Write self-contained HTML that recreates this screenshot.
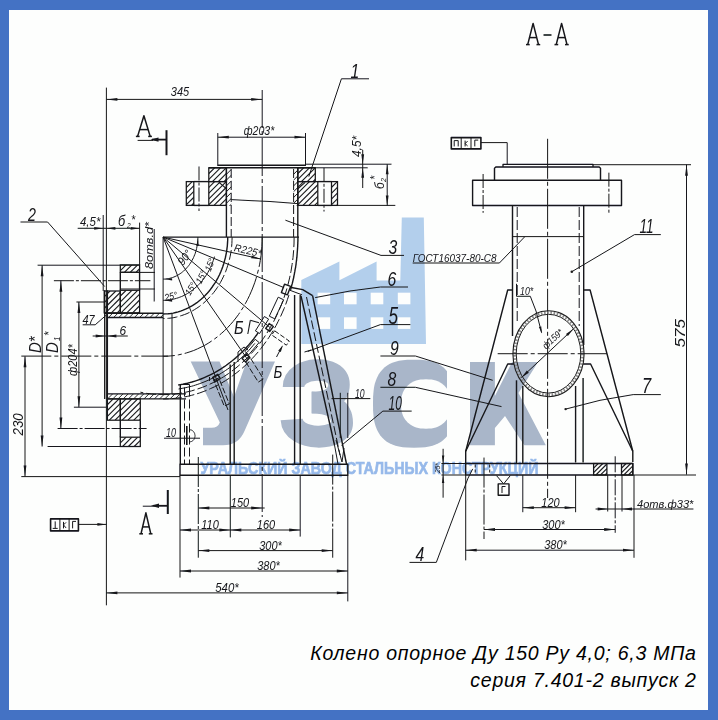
<!DOCTYPE html>
<html><head><meta charset="utf-8">
<style>
html,body{margin:0;padding:0;}
body{width:718px;height:720px;background:#4472c4;position:relative;overflow:hidden;font-family:"Liberation Sans",sans-serif;}
#paper{position:absolute;left:8.6px;top:9.6px;width:699.2px;height:700.8px;background:#fdfefd;}
#dr{position:absolute;left:0;top:0;}
.cap{position:absolute;right:21.3px;white-space:nowrap;font-style:italic;font-size:19.5px;letter-spacing:0.75px;color:#000;line-height:22px;}
</style></head><body>
<div id="paper"></div>
<svg id="dr" width="718" height="720" viewBox="0 0 718 720">
<g id="wm" filter="url(#bl2)">
<path d="M301.3 344 L301.3 280 L339.4 261.5 L339.4 280.3 L376.6 261.6 L376.6 280.5 L400.3 280.5 L401.8 217.4 L423.8 217.4 L426 344 Z" fill="#b3cfec"/>
<rect x="317.6" y="292.7" width="12.6" height="11.6" fill="#fdfefd"/>
<rect x="317.6" y="317.3" width="12.6" height="11.6" fill="#fdfefd"/>
<rect x="344" y="292.7" width="12.6" height="11.6" fill="#fdfefd"/>
<rect x="344" y="317.3" width="12.6" height="11.6" fill="#fdfefd"/>
<rect x="370.7" y="292.7" width="12.6" height="11.6" fill="#fdfefd"/>
<rect x="370.7" y="317.3" width="12.6" height="11.6" fill="#fdfefd"/>
<rect x="397.8" y="292.7" width="12.6" height="11.6" fill="#fdfefd"/>
<rect x="397.8" y="317.3" width="12.6" height="11.6" fill="#fdfefd"/>
<path fill="#a9b6c9" d="M190.7 361.5 L219.5 361.5 L234 397 L246.5 361.5 L275 361.5 L244.5 431 Q238.5 445.3 223 445.3 L203 445.3 L203 427.8 L211.5 427.8 Q218 427.8 219.8 422.5 Z"/>
<path fill="none" stroke="#a9b6c9" stroke-width="21.5" d="M293.5 387 C293.5 365.5 339 364 339 384.5 C339 397 328 402.5 311.7 402.5"/>
<path fill="none" stroke="#a9b6c9" stroke-width="22" d="M311.7 402.5 C331 402.5 342 408.5 342 423 C342 441.5 293 442 291.6 419.5"/>
<mask id="mC" maskUnits="userSpaceOnUse" x="360" y="350" width="100" height="110"><rect x="360" y="350" width="87" height="110" fill="#fff"/><path d="M451.0 404.0 L450.9 407.0 L450.7 409.4 L450.3 411.6 L449.7 413.7 L449.0 415.7 L448.1 417.5 L447.0 419.2 L445.8 420.8 L444.5 422.3 L443.0 423.6 L441.4 424.8 L439.7 425.8 L437.8 426.7 L435.8 427.4 L433.7 428.0 L431.5 428.4 L429.0 428.6 L426.0 428.7 L423.0 428.6 L420.5 428.4 L418.3 428.0 L416.2 427.4 L414.2 426.7 L412.3 425.8 L410.6 424.8 L409.0 423.6 L407.5 422.3 L406.2 420.8 L405.0 419.2 L403.9 417.5 L403.0 415.7 L402.3 413.7 L401.7 411.6 L401.3 409.4 L401.1 407.0 L401.0 404.0 L401.1 401.0 L401.3 398.6 L401.7 396.4 L402.3 394.3 L403.0 392.3 L403.9 390.5 L405.0 388.8 L406.2 387.2 L407.5 385.7 L409.0 384.4 L410.6 383.2 L412.3 382.2 L414.2 381.3 L416.2 380.6 L418.3 380.0 L420.5 379.6 L423.0 379.4 L426.0 379.3 L429.0 379.4 L431.5 379.6 L433.7 380.0 L435.8 380.6 L437.8 381.3 L439.7 382.2 L441.4 383.2 L443.0 384.4 L444.5 385.7 L445.8 387.2 L447.0 388.8 L448.1 390.5 L449.0 392.3 L449.7 394.3 L450.3 396.4 L450.7 398.6 L450.9 401.0 Z" fill="#000"/><rect x="426" y="396.8" width="40" height="21.8" fill="#000"/></mask>
<path fill="#a9b6c9" mask="url(#mC)" d="M455.0 403.7 L454.9 410.9 L454.5 415.7 L454.0 419.9 L453.2 423.6 L452.1 426.9 L450.9 430.0 L449.4 432.8 L447.7 435.4 L445.7 437.7 L443.6 439.8 L441.2 441.7 L438.5 443.3 L435.7 444.6 L432.5 445.7 L429.1 446.6 L425.2 447.2 L420.7 447.6 L414.0 447.7 L407.3 447.6 L402.8 447.2 L398.9 446.6 L395.5 445.7 L392.3 444.6 L389.5 443.3 L386.8 441.7 L384.4 439.8 L382.3 437.7 L380.3 435.4 L378.6 432.8 L377.1 430.0 L375.9 426.9 L374.8 423.6 L374.0 419.9 L373.5 415.7 L373.1 410.9 L373.0 403.7 L373.1 396.5 L373.5 391.7 L374.0 387.5 L374.8 383.8 L375.9 380.5 L377.1 377.4 L378.6 374.6 L380.3 372.0 L382.3 369.7 L384.4 367.6 L386.8 365.7 L389.5 364.1 L392.3 362.8 L395.5 361.7 L398.9 360.8 L402.8 360.2 L407.3 359.8 L414.0 359.7 L420.7 359.8 L425.2 360.2 L429.1 360.8 L432.5 361.7 L435.7 362.8 L438.5 364.1 L441.2 365.7 L443.6 367.6 L445.7 369.7 L447.7 372.0 L449.4 374.6 L450.9 377.4 L452.1 380.5 L453.2 383.8 L454.0 387.5 L454.5 391.7 L454.9 396.5 Z"/>
<path fill="#a9b6c9" d="M470 362 L494.9 362 L494.9 396 L512.1 362 L538.1 362 L518.5 393 L545.8 445.3 L524.3 445.3 L505 416 L494.9 428 L494.9 445.3 L470 445.3 Z"/>
<text id="wS" x="200.5" y="474.4" fill="#96b9ea" stroke="#96b9ea" stroke-width="0.7" style="font-family:'Liberation Sans',sans-serif;font-weight:bold;font-size:17.2px" textLength="338" lengthAdjust="spacingAndGlyphs">УРАЛЬСКИЙ ЗАВОД СТАЛЬНЫХ КОНСТРУКЦИЙ</text>
</g>
<defs><filter id="bl2" x="0" y="0" width="718" height="720" filterUnits="userSpaceOnUse"><feGaussianBlur stdDeviation="0.7"/></filter><filter id="bl" x="0" y="0" width="718" height="720" filterUnits="userSpaceOnUse"><feGaussianBlur stdDeviation="0.45"/></filter></defs>
<g id="draw" stroke-linecap="butt" filter="url(#bl)">
<line x1="106.4" y1="87.6" x2="106.4" y2="605.3" stroke="#15161a" stroke-width="1.0"/>
<line x1="106.4" y1="99.4" x2="262.2" y2="99.4" stroke="#15161a" stroke-width="1.0"/>
<polygon points="106.4,99.4 117.4,98.0 117.4,100.8" fill="#15161a"/>
<polygon points="262.2,99.4 251.2,100.8 251.2,98.0" fill="#15161a"/>
<text transform="translate(180.0 96.3) scale(0.88 1)" text-anchor="middle" style="font-family:'Liberation Sans',sans-serif;font-size:12.5px;font-style:italic;" fill="#15161a">345</text>
<line x1="262.2" y1="90.0" x2="262.2" y2="517.0" stroke="#15161a" stroke-width="1.0" stroke-dasharray="38 3 4 3"/>
<path d="M137.6 136.4 L143.9 115.8 L150.2 136.4" fill="none" stroke="#15161a" stroke-width="1.5" stroke-linejoin="round"/>
<line x1="135.9" y1="136.4" x2="139.6" y2="136.4" stroke="#15161a" stroke-width="1.5"/>
<line x1="148.2" y1="136.4" x2="151.9" y2="136.4" stroke="#15161a" stroke-width="1.5"/>
<line x1="139.7" y1="129.6" x2="148.1" y2="129.6" stroke="#15161a" stroke-width="1.5"/>
<line x1="137.6" y1="140.4" x2="153.0" y2="140.4" stroke="#15161a" stroke-width="1.0"/>
<line x1="152.0" y1="139.6" x2="166.5" y2="139.6" stroke="#15161a" stroke-width="1.8"/>
<polygon points="150.5,139.6 158.5,137.4 158.5,141.8" fill="#15161a"/>
<line x1="166.5" y1="130.2" x2="166.5" y2="155.2" stroke="#15161a" stroke-width="2.0"/>
<line x1="217.8" y1="137.2" x2="305.5" y2="137.2" stroke="#15161a" stroke-width="1.0"/>
<polygon points="217.8,137.2 228.8,135.8 228.8,138.6" fill="#15161a"/>
<polygon points="305.5,137.2 294.5,138.6 294.5,135.8" fill="#15161a"/>
<line x1="217.8" y1="133.0" x2="217.8" y2="166.0" stroke="#15161a" stroke-width="1.0"/>
<line x1="305.5" y1="133.0" x2="305.5" y2="166.0" stroke="#15161a" stroke-width="1.0"/>
<text transform="translate(259.0 135.2) scale(0.88 1)" text-anchor="middle" style="font-family:'Liberation Sans',sans-serif;font-size:12px;font-style:italic;" fill="#15161a">ф203*</text>
<line x1="217.8" y1="165.3" x2="305.5" y2="165.3" stroke="#15161a" stroke-width="1.4"/>
<line x1="208.8" y1="167.8" x2="315.3" y2="167.8" stroke="#15161a" stroke-width="1.4"/>
<clipPath id="h1"><rect x="208.8" y="167.8" width="17.6" height="13.8"/></clipPath>
<g clip-path="url(#h1)">
<line x1="195.0" y1="181.6" x2="208.8" y2="167.8" stroke="#15161a" stroke-width="1.1"/>
<line x1="200.8" y1="181.6" x2="214.6" y2="167.8" stroke="#15161a" stroke-width="1.1"/>
<line x1="206.6" y1="181.6" x2="220.4" y2="167.8" stroke="#15161a" stroke-width="1.1"/>
<line x1="212.4" y1="181.6" x2="226.2" y2="167.8" stroke="#15161a" stroke-width="1.1"/>
<line x1="218.2" y1="181.6" x2="232.0" y2="167.8" stroke="#15161a" stroke-width="1.1"/>
<line x1="224.0" y1="181.6" x2="237.8" y2="167.8" stroke="#15161a" stroke-width="1.1"/>
</g>
<rect x="208.8" y="167.8" width="17.6" height="13.8" fill="none" stroke="#15161a" stroke-width="1.25"/>
<clipPath id="h2"><rect x="208.8" y="181.6" width="17.6" height="23.8"/></clipPath>
<g clip-path="url(#h2)">
<line x1="185.0" y1="205.4" x2="208.8" y2="181.6" stroke="#15161a" stroke-width="1.1"/>
<line x1="190.8" y1="205.4" x2="214.6" y2="181.6" stroke="#15161a" stroke-width="1.1"/>
<line x1="196.6" y1="205.4" x2="220.4" y2="181.6" stroke="#15161a" stroke-width="1.1"/>
<line x1="202.4" y1="205.4" x2="226.2" y2="181.6" stroke="#15161a" stroke-width="1.1"/>
<line x1="208.2" y1="205.4" x2="232.0" y2="181.6" stroke="#15161a" stroke-width="1.1"/>
<line x1="214.0" y1="205.4" x2="237.8" y2="181.6" stroke="#15161a" stroke-width="1.1"/>
<line x1="219.8" y1="205.4" x2="243.6" y2="181.6" stroke="#15161a" stroke-width="1.1"/>
<line x1="225.6" y1="205.4" x2="249.4" y2="181.6" stroke="#15161a" stroke-width="1.1"/>
</g>
<rect x="208.8" y="181.6" width="17.6" height="23.8" fill="none" stroke="#15161a" stroke-width="1.25"/>
<clipPath id="h3"><rect x="186.3" y="181.6" width="7.5" height="23.8"/></clipPath>
<g clip-path="url(#h3)">
<line x1="162.5" y1="205.4" x2="186.3" y2="181.6" stroke="#15161a" stroke-width="1.1"/>
<line x1="168.3" y1="205.4" x2="192.1" y2="181.6" stroke="#15161a" stroke-width="1.1"/>
<line x1="174.1" y1="205.4" x2="197.9" y2="181.6" stroke="#15161a" stroke-width="1.1"/>
<line x1="179.9" y1="205.4" x2="203.7" y2="181.6" stroke="#15161a" stroke-width="1.1"/>
<line x1="185.7" y1="205.4" x2="209.5" y2="181.6" stroke="#15161a" stroke-width="1.1"/>
<line x1="191.5" y1="205.4" x2="215.3" y2="181.6" stroke="#15161a" stroke-width="1.1"/>
</g>
<rect x="186.3" y="181.6" width="7.5" height="23.8" fill="none" stroke="#15161a" stroke-width="1.25"/>
<path d="M193.8 181.6 L208.8 181.6" fill="none" stroke="#15161a" stroke-width="1.4" stroke-linejoin="round"/>
<path d="M193.8 205.4 L208.8 205.4" fill="none" stroke="#15161a" stroke-width="1.4" stroke-linejoin="round"/>
<line x1="199.0" y1="166.5" x2="199.0" y2="211.0" stroke="#15161a" stroke-width="1.0" stroke-dasharray="14 2 3 2"/>
<clipPath id="h4"><rect x="297.8" y="167.8" width="17.5" height="13.8"/></clipPath>
<g clip-path="url(#h4)">
<line x1="284.0" y1="181.6" x2="297.8" y2="167.8" stroke="#15161a" stroke-width="1.1"/>
<line x1="289.8" y1="181.6" x2="303.6" y2="167.8" stroke="#15161a" stroke-width="1.1"/>
<line x1="295.6" y1="181.6" x2="309.4" y2="167.8" stroke="#15161a" stroke-width="1.1"/>
<line x1="301.4" y1="181.6" x2="315.2" y2="167.8" stroke="#15161a" stroke-width="1.1"/>
<line x1="307.2" y1="181.6" x2="321.0" y2="167.8" stroke="#15161a" stroke-width="1.1"/>
<line x1="313.0" y1="181.6" x2="326.8" y2="167.8" stroke="#15161a" stroke-width="1.1"/>
</g>
<rect x="297.8" y="167.8" width="17.5" height="13.8" fill="none" stroke="#15161a" stroke-width="1.25"/>
<clipPath id="h5"><rect x="297.8" y="181.6" width="20.0" height="23.8"/></clipPath>
<g clip-path="url(#h5)">
<line x1="274.0" y1="205.4" x2="297.8" y2="181.6" stroke="#15161a" stroke-width="1.1"/>
<line x1="279.8" y1="205.4" x2="303.6" y2="181.6" stroke="#15161a" stroke-width="1.1"/>
<line x1="285.6" y1="205.4" x2="309.4" y2="181.6" stroke="#15161a" stroke-width="1.1"/>
<line x1="291.4" y1="205.4" x2="315.2" y2="181.6" stroke="#15161a" stroke-width="1.1"/>
<line x1="297.2" y1="205.4" x2="321.0" y2="181.6" stroke="#15161a" stroke-width="1.1"/>
<line x1="303.0" y1="205.4" x2="326.8" y2="181.6" stroke="#15161a" stroke-width="1.1"/>
<line x1="308.8" y1="205.4" x2="332.6" y2="181.6" stroke="#15161a" stroke-width="1.1"/>
<line x1="314.6" y1="205.4" x2="338.4" y2="181.6" stroke="#15161a" stroke-width="1.1"/>
</g>
<rect x="297.8" y="181.6" width="20.0" height="23.8" fill="none" stroke="#15161a" stroke-width="1.25"/>
<clipPath id="h6"><rect x="331.5" y="181.6" width="6.0" height="23.8"/></clipPath>
<g clip-path="url(#h6)">
<line x1="307.7" y1="205.4" x2="331.5" y2="181.6" stroke="#15161a" stroke-width="1.1"/>
<line x1="313.5" y1="205.4" x2="337.3" y2="181.6" stroke="#15161a" stroke-width="1.1"/>
<line x1="319.3" y1="205.4" x2="343.1" y2="181.6" stroke="#15161a" stroke-width="1.1"/>
<line x1="325.1" y1="205.4" x2="348.9" y2="181.6" stroke="#15161a" stroke-width="1.1"/>
<line x1="330.9" y1="205.4" x2="354.7" y2="181.6" stroke="#15161a" stroke-width="1.1"/>
<line x1="336.7" y1="205.4" x2="360.5" y2="181.6" stroke="#15161a" stroke-width="1.1"/>
</g>
<rect x="331.5" y="181.6" width="6.0" height="23.8" fill="none" stroke="#15161a" stroke-width="1.25"/>
<path d="M317.8 181.6 L331.5 181.6" fill="none" stroke="#15161a" stroke-width="1.4" stroke-linejoin="round"/>
<path d="M317.8 205.4 L331.5 205.4" fill="none" stroke="#15161a" stroke-width="1.4" stroke-linejoin="round"/>
<line x1="324.0" y1="167.8" x2="324.0" y2="211.5" stroke="#15161a" stroke-width="1.0" stroke-dasharray="14 2 3 2"/>
<clipPath id="h7"><rect x="226.4" y="168.5" width="4.8" height="37.5"/></clipPath>
<g clip-path="url(#h7)">
<line x1="188.9" y1="206.0" x2="226.4" y2="168.5" stroke="#15161a" stroke-width="1.0"/>
<line x1="194.7" y1="206.0" x2="232.2" y2="168.5" stroke="#15161a" stroke-width="1.0"/>
<line x1="200.5" y1="206.0" x2="238.0" y2="168.5" stroke="#15161a" stroke-width="1.0"/>
<line x1="206.3" y1="206.0" x2="243.8" y2="168.5" stroke="#15161a" stroke-width="1.0"/>
<line x1="212.1" y1="206.0" x2="249.6" y2="168.5" stroke="#15161a" stroke-width="1.0"/>
<line x1="217.9" y1="206.0" x2="255.4" y2="168.5" stroke="#15161a" stroke-width="1.0"/>
<line x1="223.7" y1="206.0" x2="261.2" y2="168.5" stroke="#15161a" stroke-width="1.0"/>
<line x1="229.5" y1="206.0" x2="267.0" y2="168.5" stroke="#15161a" stroke-width="1.0"/>
</g>
<clipPath id="h8"><rect x="293.6" y="168.5" width="4.2" height="37.5"/></clipPath>
<g clip-path="url(#h8)">
<line x1="256.1" y1="206.0" x2="293.6" y2="168.5" stroke="#15161a" stroke-width="1.0"/>
<line x1="261.9" y1="206.0" x2="299.4" y2="168.5" stroke="#15161a" stroke-width="1.0"/>
<line x1="267.7" y1="206.0" x2="305.2" y2="168.5" stroke="#15161a" stroke-width="1.0"/>
<line x1="273.5" y1="206.0" x2="311.0" y2="168.5" stroke="#15161a" stroke-width="1.0"/>
<line x1="279.3" y1="206.0" x2="316.8" y2="168.5" stroke="#15161a" stroke-width="1.0"/>
<line x1="285.1" y1="206.0" x2="322.6" y2="168.5" stroke="#15161a" stroke-width="1.0"/>
<line x1="290.9" y1="206.0" x2="328.4" y2="168.5" stroke="#15161a" stroke-width="1.0"/>
<line x1="296.7" y1="206.0" x2="334.2" y2="168.5" stroke="#15161a" stroke-width="1.0"/>
</g>
<line x1="219.0" y1="182.3" x2="226.8" y2="189.0" stroke="#15161a" stroke-width="1.1"/>
<line x1="305.2" y1="182.3" x2="297.6" y2="189.0" stroke="#15161a" stroke-width="1.1"/>
<line x1="226.4" y1="167.8" x2="226.4" y2="237.0" stroke="#15161a" stroke-width="1.4"/>
<line x1="231.2" y1="169.0" x2="231.2" y2="237.0" stroke="#15161a" stroke-width="1.0" stroke-dasharray="9 3"/>
<line x1="297.8" y1="167.8" x2="297.8" y2="237.0" stroke="#15161a" stroke-width="1.4"/>
<line x1="293.6" y1="169.0" x2="293.6" y2="237.0" stroke="#15161a" stroke-width="1.0" stroke-dasharray="9 3"/>
<path d="M231.2 199.6 L250.0 200.6 L270.0 201.5 L297.8 203.6" fill="none" stroke="#15161a" stroke-width="1.0" stroke-linejoin="round"/>
<line x1="305.5" y1="164.2" x2="391.5" y2="164.2" stroke="#15161a" stroke-width="1.0"/>
<line x1="315.0" y1="167.8" x2="367.7" y2="167.8" stroke="#15161a" stroke-width="1.0"/>
<line x1="337.6" y1="205.4" x2="395.3" y2="205.4" stroke="#15161a" stroke-width="1.0"/>
<line x1="387.2" y1="164.2" x2="387.2" y2="205.4" stroke="#15161a" stroke-width="1.0"/>
<polygon points="387.2,164.2 388.6,174.2 385.8,174.2" fill="#15161a"/>
<polygon points="387.2,205.4 385.8,195.4 388.6,195.4" fill="#15161a"/>
<text transform="translate(383.5 189.0) rotate(-90) scale(0.88 1)" text-anchor="start" style="font-family:'Liberation Sans',sans-serif;font-size:13.5px;font-style:italic;" fill="#15161a">б</text>
<text transform="translate(385.5 182.0) rotate(-90) scale(0.88 1)" text-anchor="start" style="font-family:'Liberation Sans',sans-serif;font-size:8px;font-style:italic;" fill="#15161a">2</text>
<text transform="translate(379.0 180.0) rotate(-90) scale(0.88 1)" text-anchor="start" style="font-family:'Liberation Sans',sans-serif;font-size:12.5px;font-style:italic;" fill="#15161a">*</text>
<line x1="362.7" y1="150.0" x2="362.7" y2="188.0" stroke="#15161a" stroke-width="1.0"/>
<polygon points="362.7,164.2 361.3,154.2 364.1,154.2" fill="#15161a"/>
<polygon points="362.7,167.8 364.1,177.8 361.3,177.8" fill="#15161a"/>
<text transform="translate(361.0 157.0) rotate(-90) scale(0.88 1)" text-anchor="start" style="font-family:'Liberation Sans',sans-serif;font-size:13.5px;font-style:italic;" fill="#15161a">4,5*</text>
<path d="M308.8 176.6 L341.4 78.8 L369.0 78.8" fill="none" stroke="#15161a" stroke-width="1.0" stroke-linejoin="round"/>
<text transform="translate(350.5 77.6) scale(0.75 1)" text-anchor="start" style="font-family:'Liberation Sans',sans-serif;font-size:21px;font-style:italic;" fill="#15161a">1</text>
<line x1="163.1" y1="237.1" x2="299.0" y2="237.1" stroke="#15161a" stroke-width="1.4"/>
<line x1="163.1" y1="237.1" x2="163.1" y2="395.0" stroke="#15161a" stroke-width="1.0"/>
<line x1="172.0" y1="314.0" x2="172.0" y2="394.0" stroke="#15161a" stroke-width="1.0"/>
<line x1="163.1" y1="237.1" x2="260.3" y2="258.9" stroke="#15161a" stroke-width="1.0"/>
<line x1="163.1" y1="237.1" x2="284.1" y2="287.7" stroke="#15161a" stroke-width="1.0"/>
<line x1="163.1" y1="237.1" x2="270.3" y2="327.8" stroke="#15161a" stroke-width="1.0"/>
<line x1="163.1" y1="237.1" x2="246.5" y2="357.9" stroke="#15161a" stroke-width="1.0"/>
<line x1="163.1" y1="237.1" x2="228.0" y2="410.0" stroke="#15161a" stroke-width="1.0"/>
<polygon points="260.3,258.9 251.2,258.3 251.8,255.6" fill="#15161a"/>
<text transform="translate(233.5 251.0) rotate(12.5) scale(0.95 1)" text-anchor="start" style="font-family:'Liberation Sans',sans-serif;font-size:10.5px;font-style:italic;" fill="#15161a">R225*</text>
<path d="M197.9 237.1 L197.9 238.7 L197.8 240.4 L197.7 242.0 L197.5 243.7 L197.2 245.3 L196.9 246.9 L196.6 248.5 L196.2 250.1 L195.7 251.6 L195.3 253.2 L194.7 254.7 L194.1 256.2 L193.5 257.6 L192.8 259.0 L192.0 260.4 L191.3 261.8 L190.4 263.1 L189.6 264.4 L188.7 265.6 L187.7 266.8 L186.7 267.9 L185.7 269.0 L184.6 270.1 L183.6 271.1 L182.4 272.0 L181.3 272.9 L180.1 273.7 L178.9 274.5 L177.7 275.2 L176.4 275.9 L175.1 276.5 L173.9 277.0 L172.5 277.5 L171.2 277.9 L169.9 278.3 L168.5 278.6 L167.2 278.8 L165.8 279.0 L164.5 279.1 L163.1 279.1" fill="none" stroke="#15161a" stroke-width="1.0" stroke-linejoin="round"/>
<polygon points="197.9,238.1 198.8,246.1 196.4,246.1" fill="#15161a"/>
<polygon points="164.1,279.1 172.1,278.2 172.1,280.6" fill="#15161a"/>
<text transform="translate(183.0 266.0) rotate(-52) scale(0.9 1)" text-anchor="start" style="font-family:'Liberation Sans',sans-serif;font-size:11.5px;font-style:italic;" fill="#15161a">90°</text>
<path d="M214.5 256.6 L213.9 258.5 L213.3 260.4 L212.7 262.2 L212.0 264.0 L211.2 265.8 L210.4 267.5 L209.6 269.3 L208.7 271.0 L207.8 272.6 L206.8 274.2 L205.8 275.8 L204.7 277.4 L203.6 278.9 L202.5 280.4 L201.3 281.8 L200.1 283.2 L198.8 284.5 L197.5 285.8 L196.2 287.0 L194.8 288.2 L193.5 289.4 L192.0 290.5 L190.6 291.5 L189.1 292.5 L187.6 293.4 L186.1 294.3 L184.5 295.1 L183.0 295.9 L181.4 296.6 L179.8 297.2 L178.2 297.8 L176.5 298.3 L174.9 298.8 L173.2 299.2 L171.5 299.5 L169.9 299.8 L168.2 300.0 L166.5 300.2 L164.8 300.3 L163.1 300.3" fill="none" stroke="#15161a" stroke-width="1.0" stroke-linejoin="round"/>
<polygon points="164.1,300.3 172.1,299.4 172.1,301.8" fill="#15161a"/>
<text transform="translate(165.5 301.0) rotate(-14) scale(0.9 1)" text-anchor="start" style="font-family:'Liberation Sans',sans-serif;font-size:9.5px;font-style:italic;" fill="#15161a">25°</text>
<text transform="translate(190.0 296.0) rotate(-58) scale(0.9 1)" text-anchor="start" style="font-family:'Liberation Sans',sans-serif;font-size:9.5px;font-style:italic;" fill="#15161a">15°</text>
<text transform="translate(201.0 284.5) rotate(-62) scale(0.9 1)" text-anchor="start" style="font-family:'Liberation Sans',sans-serif;font-size:9.5px;font-style:italic;" fill="#15161a">15°</text>
<text transform="translate(210.5 272.0) rotate(-68) scale(0.9 1)" text-anchor="start" style="font-family:'Liberation Sans',sans-serif;font-size:9.5px;font-style:italic;" fill="#15161a">15°</text>
<path d="M227.7 237.1 L227.7 240.1 L227.5 243.1 L227.3 246.1 L226.9 249.1 L226.5 252.1 L225.9 255.1 L225.3 258.0 L224.5 260.9 L223.7 263.7 L222.8 266.5 L221.8 269.3 L220.7 272.0 L219.5 274.7 L218.2 277.3 L216.8 279.8 L215.4 282.3 L213.8 284.7 L212.2 287.0 L210.5 289.3 L208.8 291.5 L207.0 293.6 L205.1 295.6 L203.1 297.5 L201.1 299.3 L199.0 301.0 L196.9 302.7 L194.7 304.2 L192.4 305.6 L190.1 306.9 L187.8 308.1 L185.5 309.2 L183.1 310.2 L180.6 311.1 L178.2 311.9 L175.7 312.5 L173.2 313.1 L170.7 313.5 L168.2 313.8 L165.6 313.9 L163.1 314.0" fill="none" stroke="#15161a" stroke-width="1.4" stroke-linejoin="round"/>
<path d="M232.1 237.1 L232.0 240.3 L231.9 243.5 L231.6 246.7 L231.3 249.8 L230.8 253.0 L230.2 256.1 L229.5 259.2 L228.7 262.3 L227.8 265.3 L226.8 268.3 L225.8 271.2 L224.6 274.1 L223.3 276.9 L221.9 279.7 L220.5 282.4 L218.9 285.0 L217.3 287.6 L215.6 290.0 L213.8 292.4 L211.9 294.7 L209.9 296.9 L207.9 299.1 L205.8 301.1 L203.7 303.0 L201.4 304.9 L199.2 306.6 L196.8 308.2 L194.4 309.7 L192.0 311.1 L189.5 312.4 L187.0 313.6 L184.4 314.6 L181.8 315.5 L179.2 316.3 L176.6 317.0 L173.9 317.6 L171.2 318.0 L168.5 318.3 L165.8 318.5 L163.1 318.6" fill="none" stroke="#15161a" stroke-width="1.0" stroke-linejoin="round" stroke-dasharray="10 3"/>
<path d="M262.2 237.1 L262.1 241.8 L261.9 246.5 L261.5 251.1 L261.0 255.7 L260.3 260.4 L259.5 264.9 L258.5 269.5 L257.3 273.9 L256.1 278.4 L254.7 282.7 L253.1 287.0 L251.4 291.2 L249.6 295.3 L247.6 299.4 L245.5 303.3 L243.3 307.2 L240.9 310.9 L238.5 314.5 L235.9 318.0 L233.2 321.4 L230.4 324.6 L227.5 327.7 L224.5 330.7 L221.3 333.5 L218.2 336.2 L214.9 338.7 L211.5 341.1 L208.1 343.3 L204.6 345.4 L201.0 347.2 L197.4 348.9 L193.7 350.5 L190.0 351.8 L186.2 353.0 L182.4 354.0 L178.6 354.8 L174.7 355.5 L170.9 355.9 L167.0 356.2 L163.1 356.3" fill="none" stroke="#15161a" stroke-width="1.0" stroke-linejoin="round" stroke-dasharray="30 3 4 3"/>
<path d="M297.9 237.1 L297.9 238.4 L297.9 239.8 L297.9 241.1 L297.8 242.5 L297.8 243.8 L297.7 245.1 L297.7 246.5 L297.6 247.8 L297.5 249.2 L297.4 250.5 L297.3 251.8 L297.2 253.2 L297.1 254.5 L297.0 255.8 L296.9 257.2 L296.7 258.5 L296.6 259.8 L296.4 261.2 L296.2 262.5 L296.1 263.8 L295.9 265.1 L295.7 266.5 L295.5 267.8 L295.2 269.1 L295.0 270.4 L294.8 271.7 L294.5 273.0 L294.3 274.3 L294.0 275.6 L293.8 277.0 L293.5 278.3 L293.2 279.5 L292.9 280.8 L292.6 282.1 L292.3 283.4 L291.9 284.7 L291.6 286.0 L291.3 287.3 L290.9 288.5 L290.6 289.8" fill="none" stroke="#15161a" stroke-width="1.4" stroke-linejoin="round"/>
<path d="M294.1 237.1 L294.0 244.0 L293.6 250.8 L293.0 257.7 L292.1 264.4 L291.0 271.2 L289.6 277.9 L288.0 284.5 L286.2 291.0 L284.1 297.4 L281.8 303.7 L279.3 309.8 L276.5 315.8 L273.6 321.7 L270.4 327.4 L267.0 333.0 L263.5 338.3 L259.7 343.5 L255.7 348.5 L251.6 353.2 L247.3 357.8 L242.8 362.1 L238.2 366.1 L233.5 369.9 L228.6 373.5 L223.6 376.8 L218.5 379.8 L213.2 382.6 L207.9 385.1 L202.5 387.3 L197.0 389.2 L191.5 390.9 L185.8 392.2 L180.2 393.3 L174.5 394.0 L168.8 394.5 L163.1 394.6 L157.4 394.5 L151.7 394.0 L146.0 393.3 L140.4 392.2" fill="none" stroke="#15161a" stroke-width="1.0" stroke-linejoin="round" stroke-dasharray="10 3"/>
<path d="M288.9 295.1 L287.4 299.6 L285.8 304.1 L284.1 308.5 L282.2 312.9 L280.3 317.1 L278.2 321.3 L276.1 325.5 L273.8 329.5 L271.4 333.5 L269.0 337.3 L266.4 341.1 L263.7 344.8 L261.0 348.4 L258.2 351.9 L255.2 355.3 L252.2 358.5 L249.2 361.7 L246.0 364.8 L242.8 367.7 L239.5 370.5 L236.1 373.2 L232.6 375.8 L229.1 378.3 L225.6 380.6 L221.9 382.8 L218.3 384.8 L214.5 386.8 L210.7 388.5 L206.9 390.2 L203.1 391.7 L199.2 393.1 L195.3 394.3 L191.3 395.4 L187.3 396.4 L183.3 397.2 L179.3 397.8 L175.3 398.3 L171.2 398.7 L167.2 398.9 L163.1 399.0" fill="none" stroke="#15161a" stroke-width="1.0" stroke-linejoin="round" stroke-dasharray="10 3"/>
<path d="M178.2 385.0 L180.5 384.6 L182.8 384.2 L185.1 383.7 L187.4 383.2 L189.7 382.6 L191.9 382.0 L194.2 381.3 L196.4 380.6 L198.7 379.8 L200.9 379.0 L203.1 378.1 L205.3 377.2 L207.5 376.2 L209.7 375.2 L211.8 374.1 L213.9 373.0 L216.0 371.8 L218.1 370.6 L220.2 369.4 L222.3 368.0 L224.3 366.7 L226.3 365.3 L228.3 363.8 L230.3 362.3 L232.2 360.8 L234.1 359.2 L236.0 357.6 L237.9 355.9 L239.7 354.2 L241.6 352.5 L243.3 350.7 L245.1 348.9 L246.8 347.0 L248.5 345.1 L250.2 343.1 L251.8 341.2 L253.5 339.1 L255.0 337.1 L256.6 335.0 L258.1 332.9" fill="none" stroke="#15161a" stroke-width="1.4" stroke-linejoin="round"/>
<path d="M178.6 389.0 L180.8 388.6 L182.9 388.2 L185.1 387.8 L187.2 387.3 L189.3 386.8 L191.5 386.3 L193.6 385.7 L195.7 385.0 L197.8 384.3 L199.8 383.6 L201.9 382.8 L204.0 382.0 L206.0 381.2 L208.1 380.3 L210.1 379.3 L212.1 378.4 L214.1 377.3 L216.1 376.3 L218.0 375.2 L220.0 374.0 L221.9 372.8 L223.8 371.6 L225.7 370.4 L227.6 369.1 L229.5 367.7 L231.3 366.4 L233.1 364.9 L234.9 363.5 L236.7 362.0 L238.5 360.5 L240.2 358.9 L241.9 357.3 L243.6 355.7 L245.3 354.0 L247.0 352.4 L248.6 350.6 L250.2 348.9 L251.7 347.1 L253.3 345.2 L254.8 343.4" fill="none" stroke="#15161a" stroke-width="1.0" stroke-linejoin="round"/>
<path d="M285.4 220.2 L381.0 255.4 L404.0 255.4" fill="none" stroke="#15161a" stroke-width="1.0" stroke-linejoin="round"/>
<text transform="translate(388.5 254.4) scale(0.75 1)" text-anchor="start" style="font-family:'Liberation Sans',sans-serif;font-size:21px;font-style:italic;" fill="#15161a">3</text>
<line x1="37.6" y1="265.2" x2="139.6" y2="265.2" stroke="#15161a" stroke-width="1.0"/>
<clipPath id="h9"><rect x="120.3" y="264.9" width="19.3" height="7.3"/></clipPath>
<g clip-path="url(#h9)">
<line x1="113.0" y1="272.2" x2="120.3" y2="264.9" stroke="#15161a" stroke-width="1.1"/>
<line x1="118.8" y1="272.2" x2="126.1" y2="264.9" stroke="#15161a" stroke-width="1.1"/>
<line x1="124.6" y1="272.2" x2="131.9" y2="264.9" stroke="#15161a" stroke-width="1.1"/>
<line x1="130.4" y1="272.2" x2="137.7" y2="264.9" stroke="#15161a" stroke-width="1.1"/>
<line x1="136.2" y1="272.2" x2="143.5" y2="264.9" stroke="#15161a" stroke-width="1.1"/>
</g>
<rect x="120.3" y="264.9" width="19.3" height="7.3" fill="none" stroke="#15161a" stroke-width="1.25"/>
<clipPath id="h10"><rect x="120.3" y="290.3" width="19.3" height="22.5"/></clipPath>
<g clip-path="url(#h10)">
<line x1="97.8" y1="312.8" x2="120.3" y2="290.3" stroke="#15161a" stroke-width="1.1"/>
<line x1="103.6" y1="312.8" x2="126.1" y2="290.3" stroke="#15161a" stroke-width="1.1"/>
<line x1="109.4" y1="312.8" x2="131.9" y2="290.3" stroke="#15161a" stroke-width="1.1"/>
<line x1="115.2" y1="312.8" x2="137.7" y2="290.3" stroke="#15161a" stroke-width="1.1"/>
<line x1="121.0" y1="312.8" x2="143.5" y2="290.3" stroke="#15161a" stroke-width="1.1"/>
<line x1="126.8" y1="312.8" x2="149.3" y2="290.3" stroke="#15161a" stroke-width="1.1"/>
<line x1="132.6" y1="312.8" x2="155.1" y2="290.3" stroke="#15161a" stroke-width="1.1"/>
<line x1="138.4" y1="312.8" x2="160.9" y2="290.3" stroke="#15161a" stroke-width="1.1"/>
</g>
<rect x="120.3" y="290.3" width="19.3" height="22.5" fill="none" stroke="#15161a" stroke-width="1.25"/>
<line x1="120.3" y1="272.2" x2="120.3" y2="290.3" stroke="#15161a" stroke-width="1.4"/>
<line x1="139.6" y1="272.2" x2="139.6" y2="290.3" stroke="#15161a" stroke-width="1.4"/>
<clipPath id="h11"><rect x="104.2" y="291.0" width="16.1" height="21.8"/></clipPath>
<g clip-path="url(#h11)">
<line x1="82.4" y1="312.8" x2="104.2" y2="291.0" stroke="#15161a" stroke-width="1.1"/>
<line x1="88.2" y1="312.8" x2="110.0" y2="291.0" stroke="#15161a" stroke-width="1.1"/>
<line x1="94.0" y1="312.8" x2="115.8" y2="291.0" stroke="#15161a" stroke-width="1.1"/>
<line x1="99.8" y1="312.8" x2="121.6" y2="291.0" stroke="#15161a" stroke-width="1.1"/>
<line x1="105.6" y1="312.8" x2="127.4" y2="291.0" stroke="#15161a" stroke-width="1.1"/>
<line x1="111.4" y1="312.8" x2="133.2" y2="291.0" stroke="#15161a" stroke-width="1.1"/>
<line x1="117.2" y1="312.8" x2="139.0" y2="291.0" stroke="#15161a" stroke-width="1.1"/>
</g>
<rect x="104.2" y="291.0" width="16.1" height="21.8" fill="none" stroke="#15161a" stroke-width="1.25"/>
<line x1="53.9" y1="280.7" x2="150.4" y2="280.7" stroke="#15161a" stroke-width="1.0" stroke-dasharray="20 2 3 2"/>
<line x1="104.2" y1="313.3" x2="163.1" y2="313.3" stroke="#15161a" stroke-width="1.4"/>
<line x1="107.0" y1="317.5" x2="163.1" y2="317.5" stroke="#15161a" stroke-width="1.4"/>
<clipPath id="h12"><rect x="107.4" y="313.3" width="55.7" height="4.2"/></clipPath>
<g clip-path="url(#h12)">
<line x1="103.2" y1="317.5" x2="107.4" y2="313.3" stroke="#15161a" stroke-width="0.9"/>
<line x1="108.4" y1="317.5" x2="112.6" y2="313.3" stroke="#15161a" stroke-width="0.9"/>
<line x1="113.6" y1="317.5" x2="117.8" y2="313.3" stroke="#15161a" stroke-width="0.9"/>
<line x1="118.8" y1="317.5" x2="123.0" y2="313.3" stroke="#15161a" stroke-width="0.9"/>
<line x1="124.0" y1="317.5" x2="128.2" y2="313.3" stroke="#15161a" stroke-width="0.9"/>
<line x1="129.2" y1="317.5" x2="133.4" y2="313.3" stroke="#15161a" stroke-width="0.9"/>
<line x1="134.4" y1="317.5" x2="138.6" y2="313.3" stroke="#15161a" stroke-width="0.9"/>
<line x1="139.6" y1="317.5" x2="143.8" y2="313.3" stroke="#15161a" stroke-width="0.9"/>
<line x1="144.8" y1="317.5" x2="149.0" y2="313.3" stroke="#15161a" stroke-width="0.9"/>
<line x1="150.0" y1="317.5" x2="154.2" y2="313.3" stroke="#15161a" stroke-width="0.9"/>
<line x1="155.2" y1="317.5" x2="159.4" y2="313.3" stroke="#15161a" stroke-width="0.9"/>
<line x1="160.4" y1="317.5" x2="164.6" y2="313.3" stroke="#15161a" stroke-width="0.9"/>
</g>
<line x1="120.3" y1="272.4" x2="155.0" y2="272.4" stroke="#15161a" stroke-width="1.0"/>
<line x1="120.3" y1="289.0" x2="155.0" y2="289.0" stroke="#15161a" stroke-width="1.0"/>
<line x1="139.6" y1="222.6" x2="139.6" y2="264.9" stroke="#15161a" stroke-width="1.0"/>
<line x1="103.2" y1="215.0" x2="103.2" y2="291.0" stroke="#15161a" stroke-width="1.0"/>
<line x1="77.7" y1="228.3" x2="139.6" y2="228.3" stroke="#15161a" stroke-width="1.0"/>
<polygon points="103.2,228.3 94.2,229.7 94.2,226.9" fill="#15161a"/>
<polygon points="106.4,228.3 115.4,226.9 115.4,229.7" fill="#15161a"/>
<polygon points="139.6,228.3 130.6,229.7 130.6,226.9" fill="#15161a"/>
<text transform="translate(80.0 226.3) scale(0.88 1)" text-anchor="start" style="font-family:'Liberation Sans',sans-serif;font-size:13.0px;font-style:italic;" fill="#15161a">4,5*</text>
<text transform="translate(118.0 226.0) scale(0.88 1)" text-anchor="start" style="font-family:'Liberation Sans',sans-serif;font-size:14.5px;font-style:italic;" fill="#15161a">б</text>
<text transform="translate(127.0 228.0) scale(0.88 1)" text-anchor="start" style="font-family:'Liberation Sans',sans-serif;font-size:7.5px;font-style:italic;" fill="#15161a">2</text>
<text transform="translate(131.0 224.0) scale(0.88 1)" text-anchor="start" style="font-family:'Liberation Sans',sans-serif;font-size:12.5px;font-style:italic;" fill="#15161a">*</text>
<text transform="translate(152.8 269.0) rotate(-90) scale(1 1)" text-anchor="start" style="font-family:'Liberation Sans',sans-serif;font-size:11px;font-style:italic;" fill="#15161a" textLength="47" lengthAdjust="spacingAndGlyphs">8отв.d*</text>
<line x1="154.2" y1="229.0" x2="154.2" y2="301.5" stroke="#15161a" stroke-width="1.0"/>
<path d="M20.5 222.0 L47.6 222.0 L104.7 286.5" fill="none" stroke="#15161a" stroke-width="1.0" stroke-linejoin="round"/>
<text transform="translate(28.0 220.8) scale(0.75 1)" text-anchor="start" style="font-family:'Liberation Sans',sans-serif;font-size:19px;font-style:italic;" fill="#15161a">2</text>
<line x1="42.1" y1="265.2" x2="42.1" y2="446.5" stroke="#15161a" stroke-width="1.0"/>
<polygon points="42.1,265.2 43.5,276.2 40.7,276.2" fill="#15161a"/>
<polygon points="42.1,446.5 40.7,435.5 43.5,435.5" fill="#15161a"/>
<text transform="translate(40.5 353.0) rotate(-90) scale(0.88 1)" text-anchor="start" style="font-family:'Liberation Sans',sans-serif;font-size:17px;font-style:italic;" fill="#15161a">D*</text>
<line x1="60.9" y1="280.7" x2="60.9" y2="428.5" stroke="#15161a" stroke-width="1.0"/>
<polygon points="60.9,280.7 62.3,291.7 59.5,291.7" fill="#15161a"/>
<polygon points="60.9,428.5 59.5,417.5 62.3,417.5" fill="#15161a"/>
<text transform="translate(58.0 353.0) rotate(-90) scale(0.88 1)" text-anchor="start" style="font-family:'Liberation Sans',sans-serif;font-size:17px;font-style:italic;" fill="#15161a">D</text>
<text transform="translate(60.0 341.0) rotate(-90) scale(0.88 1)" text-anchor="start" style="font-family:'Liberation Sans',sans-serif;font-size:9px;font-style:italic;" fill="#15161a">1</text>
<text transform="translate(53.0 336.0) rotate(-90) scale(0.88 1)" text-anchor="start" style="font-family:'Liberation Sans',sans-serif;font-size:13px;font-style:italic;" fill="#15161a">*</text>
<line x1="78.9" y1="302.0" x2="78.9" y2="407.2" stroke="#15161a" stroke-width="1.0"/>
<polygon points="78.9,302.0 80.3,313.0 77.5,313.0" fill="#15161a"/>
<polygon points="78.9,407.2 77.5,396.2 80.3,396.2" fill="#15161a"/>
<line x1="76.4" y1="302.0" x2="104.2" y2="302.0" stroke="#15161a" stroke-width="1.0"/>
<line x1="73.9" y1="407.2" x2="106.5" y2="407.2" stroke="#15161a" stroke-width="1.0"/>
<text transform="translate(76.8 376.0) rotate(-90) scale(0.88 1)" text-anchor="start" style="font-family:'Liberation Sans',sans-serif;font-size:12.5px;font-style:italic;" fill="#15161a">ф204*</text>
<text transform="translate(82.5 324.0) scale(0.88 1)" text-anchor="start" style="font-family:'Liberation Sans',sans-serif;font-size:12.5px;font-style:italic;" fill="#15161a">47</text>
<path d="M82.7 324.8 L95.2 324.8 L106.0 315.3" fill="none" stroke="#15161a" stroke-width="1.0" stroke-linejoin="round"/>
<line x1="92.7" y1="336.0" x2="127.8" y2="336.0" stroke="#15161a" stroke-width="1.0"/>
<polygon points="104.7,336.0 95.7,337.4 95.7,334.6" fill="#15161a"/>
<polygon points="107.4,336.0 116.4,334.6 116.4,337.4" fill="#15161a"/>
<text transform="translate(119.5 335.2) scale(0.88 1)" text-anchor="start" style="font-family:'Liberation Sans',sans-serif;font-size:13.5px;font-style:italic;" fill="#15161a">6</text>
<line x1="21.3" y1="356.1" x2="168.1" y2="356.1" stroke="#15161a" stroke-width="1.0" stroke-dasharray="30 3 4 3"/>
<line x1="25.0" y1="356.3" x2="25.0" y2="476.6" stroke="#15161a" stroke-width="1.0"/>
<polygon points="25.0,356.3 26.4,367.3 23.6,367.3" fill="#15161a"/>
<polygon points="25.0,476.6 23.6,465.6 26.4,465.6" fill="#15161a"/>
<text transform="translate(23.0 435.5) rotate(-90) scale(0.95 1)" text-anchor="start" style="font-family:'Liberation Sans',sans-serif;font-size:14px;font-style:italic;" fill="#15161a">230</text>
<line x1="21.3" y1="476.6" x2="180.0" y2="476.6" stroke="#15161a" stroke-width="1.0"/>
<line x1="104.7" y1="290.3" x2="104.7" y2="398.9" stroke="#15161a" stroke-width="1.3"/>
<line x1="107.4" y1="290.3" x2="107.4" y2="398.9" stroke="#15161a" stroke-width="1.3"/>
<clipPath id="h13"><rect x="107.4" y="398.9" width="12.9" height="21.3"/></clipPath>
<g clip-path="url(#h13)">
<line x1="86.1" y1="420.2" x2="107.4" y2="398.9" stroke="#15161a" stroke-width="1.1"/>
<line x1="91.9" y1="420.2" x2="113.2" y2="398.9" stroke="#15161a" stroke-width="1.1"/>
<line x1="97.7" y1="420.2" x2="119.0" y2="398.9" stroke="#15161a" stroke-width="1.1"/>
<line x1="103.5" y1="420.2" x2="124.8" y2="398.9" stroke="#15161a" stroke-width="1.1"/>
<line x1="109.3" y1="420.2" x2="130.6" y2="398.9" stroke="#15161a" stroke-width="1.1"/>
<line x1="115.1" y1="420.2" x2="136.4" y2="398.9" stroke="#15161a" stroke-width="1.1"/>
<line x1="120.9" y1="420.2" x2="142.2" y2="398.9" stroke="#15161a" stroke-width="1.1"/>
</g>
<rect x="107.4" y="398.9" width="12.9" height="21.3" fill="none" stroke="#15161a" stroke-width="1.25"/>
<clipPath id="h14"><rect x="120.3" y="398.9" width="20.0" height="21.3"/></clipPath>
<g clip-path="url(#h14)">
<line x1="99.0" y1="420.2" x2="120.3" y2="398.9" stroke="#15161a" stroke-width="1.1"/>
<line x1="104.8" y1="420.2" x2="126.1" y2="398.9" stroke="#15161a" stroke-width="1.1"/>
<line x1="110.6" y1="420.2" x2="131.9" y2="398.9" stroke="#15161a" stroke-width="1.1"/>
<line x1="116.4" y1="420.2" x2="137.7" y2="398.9" stroke="#15161a" stroke-width="1.1"/>
<line x1="122.2" y1="420.2" x2="143.5" y2="398.9" stroke="#15161a" stroke-width="1.1"/>
<line x1="128.0" y1="420.2" x2="149.3" y2="398.9" stroke="#15161a" stroke-width="1.1"/>
<line x1="133.8" y1="420.2" x2="155.1" y2="398.9" stroke="#15161a" stroke-width="1.1"/>
<line x1="139.6" y1="420.2" x2="160.9" y2="398.9" stroke="#15161a" stroke-width="1.1"/>
</g>
<rect x="120.3" y="398.9" width="20.0" height="21.3" fill="none" stroke="#15161a" stroke-width="1.25"/>
<clipPath id="h15"><rect x="120.3" y="437.2" width="20.0" height="9.3"/></clipPath>
<g clip-path="url(#h15)">
<line x1="111.0" y1="446.5" x2="120.3" y2="437.2" stroke="#15161a" stroke-width="1.1"/>
<line x1="116.8" y1="446.5" x2="126.1" y2="437.2" stroke="#15161a" stroke-width="1.1"/>
<line x1="122.6" y1="446.5" x2="131.9" y2="437.2" stroke="#15161a" stroke-width="1.1"/>
<line x1="128.4" y1="446.5" x2="137.7" y2="437.2" stroke="#15161a" stroke-width="1.1"/>
<line x1="134.2" y1="446.5" x2="143.5" y2="437.2" stroke="#15161a" stroke-width="1.1"/>
<line x1="140.0" y1="446.5" x2="149.3" y2="437.2" stroke="#15161a" stroke-width="1.1"/>
</g>
<rect x="120.3" y="437.2" width="20.0" height="9.3" fill="none" stroke="#15161a" stroke-width="1.25"/>
<line x1="120.3" y1="420.2" x2="120.3" y2="437.2" stroke="#15161a" stroke-width="1.4"/>
<line x1="140.3" y1="420.2" x2="140.3" y2="437.2" stroke="#15161a" stroke-width="1.4"/>
<line x1="47.6" y1="446.5" x2="140.3" y2="446.5" stroke="#15161a" stroke-width="1.0"/>
<line x1="57.6" y1="428.5" x2="146.6" y2="428.5" stroke="#15161a" stroke-width="1.0" stroke-dasharray="20 2 3 2"/>
<line x1="107.4" y1="393.9" x2="186.0" y2="393.9" stroke="#15161a" stroke-width="1.4"/>
<line x1="107.4" y1="398.9" x2="186.0" y2="398.9" stroke="#15161a" stroke-width="1.4"/>
<clipPath id="h16"><rect x="107.4" y="393.9" width="73.6" height="5.0"/></clipPath>
<g clip-path="url(#h16)">
<line x1="102.4" y1="398.9" x2="107.4" y2="393.9" stroke="#15161a" stroke-width="0.9"/>
<line x1="107.6" y1="398.9" x2="112.6" y2="393.9" stroke="#15161a" stroke-width="0.9"/>
<line x1="112.8" y1="398.9" x2="117.8" y2="393.9" stroke="#15161a" stroke-width="0.9"/>
<line x1="118.0" y1="398.9" x2="123.0" y2="393.9" stroke="#15161a" stroke-width="0.9"/>
<line x1="123.2" y1="398.9" x2="128.2" y2="393.9" stroke="#15161a" stroke-width="0.9"/>
<line x1="128.4" y1="398.9" x2="133.4" y2="393.9" stroke="#15161a" stroke-width="0.9"/>
<line x1="133.6" y1="398.9" x2="138.6" y2="393.9" stroke="#15161a" stroke-width="0.9"/>
<line x1="138.8" y1="398.9" x2="143.8" y2="393.9" stroke="#15161a" stroke-width="0.9"/>
<line x1="144.0" y1="398.9" x2="149.0" y2="393.9" stroke="#15161a" stroke-width="0.9"/>
<line x1="149.2" y1="398.9" x2="154.2" y2="393.9" stroke="#15161a" stroke-width="0.9"/>
<line x1="154.4" y1="398.9" x2="159.4" y2="393.9" stroke="#15161a" stroke-width="0.9"/>
<line x1="159.6" y1="398.9" x2="164.6" y2="393.9" stroke="#15161a" stroke-width="0.9"/>
<line x1="164.8" y1="398.9" x2="169.8" y2="393.9" stroke="#15161a" stroke-width="0.9"/>
<line x1="170.0" y1="398.9" x2="175.0" y2="393.9" stroke="#15161a" stroke-width="0.9"/>
<line x1="175.2" y1="398.9" x2="180.2" y2="393.9" stroke="#15161a" stroke-width="0.9"/>
<line x1="180.4" y1="398.9" x2="185.4" y2="393.9" stroke="#15161a" stroke-width="0.9"/>
</g>
<path d="M180.0 464.3 L347.8 464.3 L347.8 475.2 L180.0 475.2 Z" fill="none" stroke="#15161a" stroke-width="1.4" stroke-linejoin="round"/>
<line x1="180.3" y1="384.5" x2="180.3" y2="464.3" stroke="#15161a" stroke-width="1.4"/>
<line x1="184.5" y1="387.5" x2="184.5" y2="464.3" stroke="#15161a" stroke-width="1.0" stroke-dasharray="9 3"/>
<line x1="189.5" y1="387.5" x2="189.5" y2="464.3" stroke="#15161a" stroke-width="1.0" stroke-dasharray="9 3"/>
<path d="M180.3 384.5 L189.5 384.5 L189.5 393.0" fill="none" stroke="#15161a" stroke-width="1.0" stroke-linejoin="round"/>
<text transform="translate(166.0 437.4) scale(0.72 1)" text-anchor="start" style="font-family:'Liberation Sans',sans-serif;font-size:12.5px;font-style:italic;" fill="#15161a">10</text>
<line x1="164.0" y1="438.2" x2="200.0" y2="438.2" stroke="#15161a" stroke-width="1.0"/>
<path d="M189.3 429.8 L189.8 429.8 L190.2 429.8 L190.6 429.9 L191.1 430.0 L191.5 430.1 L191.9 430.3 L192.3 430.5 L192.6 430.8 L193.0 431.1 L193.3 431.4 L193.6 431.7 L193.9 432.1 L194.1 432.5 L194.4 432.9 L194.6 433.4 L194.7 433.8 L194.8 434.3 L194.9 434.8 L195.0 435.3 L195.0 435.8 L195.0 436.3 L194.9 436.8 L194.8 437.3 L194.7 437.8 L194.6 438.2 L194.4 438.7 L194.1 439.1 L193.9 439.5 L193.6 439.9 L193.3 440.2 L193.0 440.5 L192.6 440.8 L192.3 441.1 L191.9 441.3 L191.5 441.5 L191.1 441.6 L190.6 441.7 L190.2 441.8 L189.8 441.8 L189.3 441.8" fill="none" stroke="#15161a" stroke-width="1.0" stroke-linejoin="round"/>
<line x1="186.8" y1="426.0" x2="186.8" y2="445.0" stroke="#15161a" stroke-width="1.6"/>
<line x1="230.2" y1="364.5" x2="230.2" y2="464.3" stroke="#15161a" stroke-width="1.4"/>
<line x1="234.2" y1="362.0" x2="234.2" y2="464.3" stroke="#15161a" stroke-width="1.4"/>
<line x1="294.6" y1="295.0" x2="294.6" y2="464.3" stroke="#15161a" stroke-width="1.4"/>
<line x1="300.2" y1="295.0" x2="300.2" y2="464.3" stroke="#15161a" stroke-width="1.4"/>
<path d="M290.0 287.2 L302.7 289.6 L312.6 295.6" fill="none" stroke="#15161a" stroke-width="1.4" stroke-linejoin="round"/>
<line x1="290.0" y1="290.3" x2="302.0" y2="294.8" stroke="#15161a" stroke-width="1.0"/>
<line x1="301.0" y1="296.0" x2="334.5" y2="445.0" stroke="#15161a" stroke-width="1.4"/>
<line x1="312.6" y1="295.6" x2="346.5" y2="464.0" stroke="#15161a" stroke-width="1.4"/>
<line x1="306.5" y1="297.0" x2="340.0" y2="455.0" stroke="#15161a" stroke-width="1.0" stroke-dasharray="9 3"/>
<line x1="304.5" y1="352.0" x2="311.0" y2="350.0" stroke="#15161a" stroke-width="1.0"/>
<path d="M334.5 445.0 L338.0 464.0" fill="none" stroke="#15161a" stroke-width="1.0" stroke-linejoin="round"/>
<path d="M336.0 440.0 L342.0 462.0 L344.0 448.0" fill="none" stroke="#15161a" stroke-width="1.0" stroke-linejoin="round"/>
<path d="M284.5 284.2 L290.6 286.4 L287.5 294.8 L281.4 292.6 Z" fill="none" stroke="#15161a" stroke-width="1.4" stroke-linejoin="round"/>
<path d="M278.2 297.2 L283.7 299.8 L274.8 318.8 L269.3 316.2 Z" fill="none" stroke="#15161a" stroke-width="1.0" stroke-linejoin="round"/>
<path d="M269.2 323.6 L273.3 326.5 L269.8 331.4 L265.7 328.5 Z" fill="none" stroke="#15161a" stroke-width="1.4" stroke-linejoin="round"/>
<path d="M274.6 330.8 L289.3 341.1 L286.4 345.2 L271.7 334.9 Z" fill="none" stroke="#15161a" stroke-width="1.0" stroke-linejoin="round" stroke-dasharray="5 2"/>
<path d="M264.4 316.5 L268.6 319.1 L259.6 333.5 L255.4 330.9 Z" fill="none" stroke="#15161a" stroke-width="1.0" stroke-linejoin="round"/>
<path d="M246.4 354.1 L249.9 357.6 L245.6 361.9 L242.1 358.4 Z" fill="none" stroke="#15161a" stroke-width="1.4" stroke-linejoin="round"/>
<path d="M244.6 360.1 L249.7 356.9 L263.4 378.9 L258.3 382.1 Z" fill="none" stroke="#15161a" stroke-width="1.0" stroke-linejoin="round" stroke-dasharray="6 2"/>
<path d="M255.2 339.3 L259.1 342.5 L248.8 354.7 L244.9 351.5 Z" fill="none" stroke="#15161a" stroke-width="1.0" stroke-linejoin="round"/>
<path d="M217.8 374.3 L220.3 378.7 L215.2 381.7 L212.7 377.3 Z" fill="none" stroke="#15161a" stroke-width="1.4" stroke-linejoin="round"/>
<path d="M213.7 380.0 L218.8 378.0 L229.3 404.0 L224.2 406.0 Z" fill="none" stroke="#15161a" stroke-width="1.0" stroke-linejoin="round" stroke-dasharray="6 2"/>
<path d="M238.0 362.0 L238.0 352.0 L244.0 347.0 L248.0 350.0" fill="none" stroke="#15161a" stroke-width="1.0" stroke-linejoin="round"/>
<path d="M209.5 377.0 L209.5 381.0" fill="none" stroke="#15161a" stroke-width="1.0" stroke-linejoin="round"/>
<text transform="translate(234.0 333.6) scale(0.78 1)" text-anchor="start" style="font-family:'Liberation Sans',sans-serif;font-size:19px;font-style:italic;" fill="#15161a">Б</text>
<path d="M250.3 320.3 L247.8 334.0" fill="none" stroke="#15161a" stroke-width="1.1" stroke-linejoin="round"/>
<path d="M250.3 320.3 L259.0 322.8" fill="none" stroke="#15161a" stroke-width="1.1" stroke-linejoin="round"/>
<text transform="translate(273.5 378.0) scale(0.8 1)" text-anchor="start" style="font-family:'Liberation Sans',sans-serif;font-size:17px;font-style:italic;" fill="#15161a">Б</text>
<line x1="276.5" y1="357.0" x2="282.0" y2="346.5" stroke="#15161a" stroke-width="1.0"/>
<polygon points="282.9,345.3 280.8,352.1 278.2,350.7" fill="#15161a"/>
<path d="M315.2 297.6 L350.0 291.0 L380.4 287.0 L408.0 287.0" fill="none" stroke="#15161a" stroke-width="1.0" stroke-linejoin="round"/>
<text transform="translate(387.5 286.3) scale(0.75 1)" text-anchor="start" style="font-family:'Liberation Sans',sans-serif;font-size:21px;font-style:italic;" fill="#15161a">6</text>
<path d="M307.7 351.5 L380.4 324.6 L410.4 324.6" fill="none" stroke="#15161a" stroke-width="1.0" stroke-linejoin="round"/>
<text transform="translate(388.5 323.9) scale(0.75 1)" text-anchor="start" style="font-family:'Liberation Sans',sans-serif;font-size:23px;font-style:italic;" fill="#15161a">5</text>
<path d="M380.4 356.0 L415.4 356.0 L492.7 380.3" fill="none" stroke="#15161a" stroke-width="1.0" stroke-linejoin="round"/>
<text transform="translate(390.0 355.2) scale(0.75 1)" text-anchor="start" style="font-family:'Liberation Sans',sans-serif;font-size:21px;font-style:italic;" fill="#15161a">9</text>
<path d="M380.4 387.3 L415.4 387.3 L501.5 406.6" fill="none" stroke="#15161a" stroke-width="1.0" stroke-linejoin="round"/>
<text transform="translate(387.5 385.9) scale(0.75 1)" text-anchor="start" style="font-family:'Liberation Sans',sans-serif;font-size:21px;font-style:italic;" fill="#15161a">8</text>
<path d="M411.7 411.1 L382.9 411.1 L341.5 445.4" fill="none" stroke="#15161a" stroke-width="1.0" stroke-linejoin="round"/>
<text transform="translate(388.5 410.0) scale(0.6 1)" text-anchor="start" style="font-family:'Liberation Sans',sans-serif;font-size:20px;font-style:italic;" fill="#15161a">10</text>
<text transform="translate(355.0 397.7) scale(0.72 1)" text-anchor="start" style="font-family:'Liberation Sans',sans-serif;font-size:12px;font-style:italic;" fill="#15161a">10</text>
<line x1="331.5" y1="398.6" x2="370.3" y2="398.6" stroke="#15161a" stroke-width="1.0"/>
<line x1="340.3" y1="392.8" x2="340.3" y2="438.0" stroke="#15161a" stroke-width="1.0"/>
<line x1="347.8" y1="392.8" x2="347.8" y2="438.0" stroke="#15161a" stroke-width="1.0"/>
<line x1="180.0" y1="475.2" x2="180.0" y2="577.6" stroke="#15161a" stroke-width="1.0"/>
<line x1="198.3" y1="457.0" x2="198.3" y2="557.7" stroke="#15161a" stroke-width="1.0" stroke-dasharray="30 2 3 2"/>
<line x1="230.3" y1="475.2" x2="230.3" y2="537.4" stroke="#15161a" stroke-width="1.0"/>
<line x1="300.2" y1="475.2" x2="300.2" y2="536.6" stroke="#15161a" stroke-width="1.0"/>
<line x1="332.7" y1="454.6" x2="332.7" y2="557.7" stroke="#15161a" stroke-width="1.0" stroke-dasharray="30 2 3 2"/>
<line x1="347.8" y1="475.2" x2="347.8" y2="601.4" stroke="#15161a" stroke-width="1.0"/>
<line x1="198.3" y1="508.0" x2="264.7" y2="508.0" stroke="#15161a" stroke-width="1.0"/>
<polygon points="198.3,508.0 209.3,506.6 209.3,509.4" fill="#15161a"/>
<polygon points="262.2,508.0 251.2,509.4 251.2,506.6" fill="#15161a"/>
<text transform="translate(240.0 507.3) scale(0.88 1)" text-anchor="middle" style="font-family:'Liberation Sans',sans-serif;font-size:12.5px;font-style:italic;" fill="#15161a">150</text>
<line x1="180.0" y1="530.0" x2="300.2" y2="530.0" stroke="#15161a" stroke-width="1.0"/>
<polygon points="180.0,530.0 191.0,528.6 191.0,531.4" fill="#15161a"/>
<polygon points="230.3,530.0 219.3,531.4 219.3,528.6" fill="#15161a"/>
<polygon points="230.3,530.0 241.3,528.6 241.3,531.4" fill="#15161a"/>
<polygon points="300.2,530.0 289.2,531.4 289.2,528.6" fill="#15161a"/>
<text transform="translate(210.0 529.0) scale(0.88 1)" text-anchor="middle" style="font-family:'Liberation Sans',sans-serif;font-size:12.5px;font-style:italic;" fill="#15161a">110</text>
<text transform="translate(266.0 529.0) scale(0.88 1)" text-anchor="middle" style="font-family:'Liberation Sans',sans-serif;font-size:12.5px;font-style:italic;" fill="#15161a">160</text>
<line x1="198.3" y1="550.6" x2="332.7" y2="550.6" stroke="#15161a" stroke-width="1.0"/>
<polygon points="198.3,550.6 209.3,549.2 209.3,552.0" fill="#15161a"/>
<polygon points="332.7,550.6 321.7,552.0 321.7,549.2" fill="#15161a"/>
<text transform="translate(270.5 549.6) scale(0.88 1)" text-anchor="middle" style="font-family:'Liberation Sans',sans-serif;font-size:12.5px;font-style:italic;" fill="#15161a">300*</text>
<line x1="180.0" y1="571.0" x2="347.8" y2="571.0" stroke="#15161a" stroke-width="1.0"/>
<polygon points="180.0,571.0 191.0,569.6 191.0,572.4" fill="#15161a"/>
<polygon points="347.8,571.0 336.8,572.4 336.8,569.6" fill="#15161a"/>
<text transform="translate(268.5 570.0) scale(0.88 1)" text-anchor="middle" style="font-family:'Liberation Sans',sans-serif;font-size:12.5px;font-style:italic;" fill="#15161a">380*</text>
<line x1="106.4" y1="592.9" x2="347.8" y2="592.9" stroke="#15161a" stroke-width="1.0"/>
<polygon points="106.4,592.9 117.4,591.5 117.4,594.3" fill="#15161a"/>
<polygon points="347.8,592.9 336.8,594.3 336.8,591.5" fill="#15161a"/>
<text transform="translate(227.0 592.0) scale(0.88 1)" text-anchor="middle" style="font-family:'Liberation Sans',sans-serif;font-size:13.0px;font-style:italic;" fill="#15161a">540*</text>
<line x1="167.8" y1="490.0" x2="167.8" y2="514.0" stroke="#15161a" stroke-width="2.0"/>
<line x1="153.0" y1="505.8" x2="167.8" y2="505.8" stroke="#15161a" stroke-width="1.8"/>
<polygon points="151.0,505.8 159.0,503.6 159.0,508.0" fill="#15161a"/>
<line x1="142.8" y1="506.2" x2="153.0" y2="506.2" stroke="#15161a" stroke-width="1.0"/>
<path d="M141.0 533.8 L145.9 512.8 L150.8 533.8" fill="none" stroke="#15161a" stroke-width="1.5" stroke-linejoin="round"/>
<line x1="139.3" y1="533.8" x2="143.0" y2="533.8" stroke="#15161a" stroke-width="1.5"/>
<line x1="148.8" y1="533.8" x2="152.5" y2="533.8" stroke="#15161a" stroke-width="1.5"/>
<line x1="142.6" y1="526.9" x2="149.2" y2="526.9" stroke="#15161a" stroke-width="1.5"/>
<path d="M50.6 518.9 L78.4 518.9 L78.4 530.9 L50.6 530.9 Z" fill="none" stroke="#15161a" stroke-width="1.6" stroke-linejoin="round"/>
<line x1="59.9" y1="518.9" x2="59.9" y2="530.9" stroke="#15161a" stroke-width="1.0"/>
<line x1="69.1" y1="518.9" x2="69.1" y2="530.9" stroke="#15161a" stroke-width="1.0"/>
<line x1="55.2" y1="521.4" x2="55.2" y2="528.4" stroke="#15161a" stroke-width="1.0"/>
<line x1="52.7" y1="528.4" x2="57.7" y2="528.4" stroke="#15161a" stroke-width="1.0"/>
<line x1="63.5" y1="521.9" x2="63.5" y2="528.4" stroke="#15161a" stroke-width="1.0"/>
<path d="M66.0 522.4 L63.5 524.9 L66.0 527.9" fill="none" stroke="#15161a" stroke-width="1.0" stroke-linejoin="round"/>
<path d="M72.6 528.4 L72.6 521.4 L76.0 521.4" fill="none" stroke="#15161a" stroke-width="1.0" stroke-linejoin="round"/>
<line x1="78.4" y1="524.4" x2="106.4" y2="524.4" stroke="#15161a" stroke-width="1.0"/>
<polygon points="106.4,524.4 97.4,525.8 97.4,523.0" fill="#15161a"/>
<path d="M527.7 44.6 L533.1 23.4 L538.5 44.6" fill="none" stroke="#15161a" stroke-width="1.5" stroke-linejoin="round"/>
<line x1="526.0" y1="44.6" x2="529.7" y2="44.6" stroke="#15161a" stroke-width="1.5"/>
<line x1="536.5" y1="44.6" x2="540.2" y2="44.6" stroke="#15161a" stroke-width="1.5"/>
<line x1="529.5" y1="37.6" x2="536.7" y2="37.6" stroke="#15161a" stroke-width="1.5"/>
<path d="M556.2 44.6 L561.6 23.4 L567.0 44.6" fill="none" stroke="#15161a" stroke-width="1.5" stroke-linejoin="round"/>
<line x1="554.5" y1="44.6" x2="558.2" y2="44.6" stroke="#15161a" stroke-width="1.5"/>
<line x1="565.0" y1="44.6" x2="568.7" y2="44.6" stroke="#15161a" stroke-width="1.5"/>
<line x1="558.0" y1="37.6" x2="565.2" y2="37.6" stroke="#15161a" stroke-width="1.5"/>
<line x1="543.5" y1="35.0" x2="551.5" y2="35.0" stroke="#15161a" stroke-width="1.6"/>
<line x1="547.6" y1="138.8" x2="547.6" y2="498.0" stroke="#15161a" stroke-width="1.0" stroke-dasharray="40 3 4 3"/>
<path d="M451.3 137.6 L480.9 137.6 L480.9 148.9 L451.3 148.9 Z" fill="none" stroke="#15161a" stroke-width="1.6" stroke-linejoin="round"/>
<line x1="461.2" y1="137.6" x2="461.2" y2="148.9" stroke="#15161a" stroke-width="1.0"/>
<line x1="471.0" y1="137.6" x2="471.0" y2="148.9" stroke="#15161a" stroke-width="1.0"/>
<line x1="454.2" y1="140.6" x2="454.2" y2="146.4" stroke="#15161a" stroke-width="1.0"/>
<line x1="458.2" y1="140.6" x2="458.2" y2="146.4" stroke="#15161a" stroke-width="1.0"/>
<line x1="454.2" y1="140.6" x2="458.2" y2="140.6" stroke="#15161a" stroke-width="1.0"/>
<line x1="465.1" y1="140.6" x2="465.1" y2="146.4" stroke="#15161a" stroke-width="1.0"/>
<path d="M467.6 141.1 L465.1 143.6 L467.6 145.9" fill="none" stroke="#15161a" stroke-width="1.0" stroke-linejoin="round"/>
<path d="M474.8 146.4 L474.8 140.1 L478.2 140.1" fill="none" stroke="#15161a" stroke-width="1.0" stroke-linejoin="round"/>
<path d="M480.9 142.6 L507.2 142.6 L507.2 164.4" fill="none" stroke="#15161a" stroke-width="1.0" stroke-linejoin="round"/>
<path d="M503.0 167.0 L503.0 164.4 L593.0 164.4 L593.0 167.0" fill="none" stroke="#15161a" stroke-width="1.3" stroke-linejoin="round"/>
<path d="M494.5 180.2 L494.5 168.2 L495.8 167.0 L599.2 167.0 L600.5 168.2 L600.5 180.2" fill="none" stroke="#15161a" stroke-width="1.4" stroke-linejoin="round"/>
<path d="M472.6 180.2 L621.5 180.2 L621.5 205.5 L472.6 205.5 Z" fill="none" stroke="#15161a" stroke-width="1.4" stroke-linejoin="round"/>
<line x1="483.1" y1="174.0" x2="483.1" y2="212.8" stroke="#15161a" stroke-width="1.0" stroke-dasharray="14 2 3 2"/>
<line x1="608.9" y1="172.7" x2="608.9" y2="213.3" stroke="#15161a" stroke-width="1.0" stroke-dasharray="14 2 3 2"/>
<line x1="593.0" y1="164.7" x2="691.0" y2="164.7" stroke="#15161a" stroke-width="1.0"/>
<line x1="686.5" y1="164.7" x2="686.5" y2="474.6" stroke="#15161a" stroke-width="1.0"/>
<polygon points="686.5,164.7 687.9,175.7 685.1,175.7" fill="#15161a"/>
<polygon points="686.5,474.6 685.1,463.6 687.9,463.6" fill="#15161a"/>
<text transform="translate(684.8 347.5) rotate(-90) scale(1.1 1)" text-anchor="start" style="font-family:'Liberation Sans',sans-serif;font-size:15.5px;font-style:italic;" fill="#15161a">575</text>
<line x1="512.5" y1="205.5" x2="512.5" y2="336.0" stroke="#15161a" stroke-width="1.4"/>
<line x1="517.2" y1="207.0" x2="517.2" y2="322.0" stroke="#15161a" stroke-width="1.0" stroke-dasharray="10 3"/>
<line x1="583.7" y1="205.5" x2="583.7" y2="345.0" stroke="#15161a" stroke-width="1.4"/>
<line x1="579.2" y1="207.0" x2="579.2" y2="326.0" stroke="#15161a" stroke-width="1.0" stroke-dasharray="10 3"/>
<line x1="512.5" y1="236.6" x2="583.7" y2="236.6" stroke="#15161a" stroke-width="1.0"/>
<text transform="translate(412.7 261.8) scale(1 1)" text-anchor="start" style="font-family:'Liberation Sans',sans-serif;font-size:10.5px;font-style:italic;" fill="#15161a" textLength="83.8" lengthAdjust="spacingAndGlyphs">ГОСТ16037-80-С8</text>
<path d="M412.7 263.0 L499.4 263.0 L524.8 236.7" fill="none" stroke="#15161a" stroke-width="1.0" stroke-linejoin="round"/>
<path d="M571.8 271.7 L634.5 234.6 L660.8 234.6" fill="none" stroke="#15161a" stroke-width="1.0" stroke-linejoin="round"/>
<circle cx="571.8" cy="271.7" r="1.3" fill="#1c1c1c"/>
<text transform="translate(639.5 232.9) scale(0.7 1)" text-anchor="start" style="font-family:'Liberation Sans',sans-serif;font-size:19.5px;font-style:italic;" fill="#15161a">11</text>
<ellipse cx="548.5" cy="353.7" rx="34" ry="41.2" fill="none" stroke="#8a8a8a" stroke-width="2.6" stroke-dasharray="1.6 1.6"/>
<ellipse cx="548.5" cy="353.7" rx="35.6" ry="43" fill="none" stroke="#1c1c1c" stroke-width="1.1"/>
<ellipse cx="548.5" cy="353.7" rx="32.3" ry="39.4" fill="none" stroke="#1c1c1c" stroke-width="1.0"/>
<line x1="497.7" y1="353.7" x2="607.0" y2="353.7" stroke="#15161a" stroke-width="1.0" stroke-dasharray="30 3 4 3"/>
<line x1="521.5" y1="377.5" x2="573.3" y2="329.0" stroke="#15161a" stroke-width="1.0"/>
<polygon points="521.3,377.8 526.9,370.6 528.8,372.7" fill="#15161a"/>
<polygon points="573.5,328.8 567.9,336.0 566.0,333.9" fill="#15161a"/>
<text transform="translate(546.0 349.5) rotate(-43) scale(0.88 1)" text-anchor="start" style="font-family:'Liberation Sans',sans-serif;font-size:9.5px;font-style:italic;" fill="#15161a">ф159*</text>
<text transform="translate(520.0 295.0) scale(0.88 1)" text-anchor="start" style="font-family:'Liberation Sans',sans-serif;font-size:10px;font-style:italic;" fill="#15161a">10*</text>
<path d="M516.5 283.8 L516.5 296.3 L530.3 296.3" fill="none" stroke="#15161a" stroke-width="1.0" stroke-linejoin="round"/>
<path d="M530.3 296.3 L536.0 311.0 L541.6 332.7" fill="none" stroke="#15161a" stroke-width="1.0" stroke-linejoin="round"/>
<polygon points="541.8,333.5 538.9,327.0 541.3,326.4" fill="#15161a"/>
<path d="M512.5 290.0 L507.7 290.0 L465.7 451.3 L465.7 463.9" fill="none" stroke="#15161a" stroke-width="1.4" stroke-linejoin="round"/>
<path d="M583.7 290.0 L590.1 290.0 L632.8 451.3 L632.8 462.1" fill="none" stroke="#15161a" stroke-width="1.4" stroke-linejoin="round"/>
<path d="M514.0 364.0 L507.7 364.0 L465.7 451.3" fill="none" stroke="#15161a" stroke-width="1.4" stroke-linejoin="round"/>
<path d="M583.1 364.0 L590.6 364.0 L632.8 451.3" fill="none" stroke="#15161a" stroke-width="1.4" stroke-linejoin="round"/>
<line x1="516.5" y1="380.3" x2="516.5" y2="463.9" stroke="#15161a" stroke-width="1.4"/>
<line x1="522.8" y1="386.0" x2="522.8" y2="463.9" stroke="#15161a" stroke-width="1.4"/>
<line x1="575.6" y1="386.0" x2="575.6" y2="462.5" stroke="#15161a" stroke-width="1.4"/>
<line x1="583.1" y1="378.0" x2="583.1" y2="462.5" stroke="#15161a" stroke-width="1.4"/>
<path d="M565.6 409.1 L600.0 400.3 L633.2 394.6 L660.8 394.6" fill="none" stroke="#15161a" stroke-width="1.0" stroke-linejoin="round"/>
<circle cx="565.6" cy="409.1" r="1.2" fill="#1c1c1c"/>
<text transform="translate(642.0 393.0) scale(0.75 1)" text-anchor="start" style="font-family:'Liberation Sans',sans-serif;font-size:22px;font-style:italic;" fill="#15161a">7</text>
<path d="M465.7 463.5 L632.8 463.5 L632.8 475.0 L465.7 475.0 Z" fill="none" stroke="#15161a" stroke-width="1.4" stroke-linejoin="round"/>
<line x1="441.4" y1="463.5" x2="465.7" y2="463.5" stroke="#15161a" stroke-width="1.0"/>
<line x1="441.4" y1="475.0" x2="465.7" y2="475.0" stroke="#15161a" stroke-width="1.0"/>
<line x1="632.8" y1="475.0" x2="696.0" y2="475.0" stroke="#15161a" stroke-width="1.0"/>
<clipPath id="h17"><rect x="593.6" y="463.5" width="13.3" height="11.5"/></clipPath>
<g clip-path="url(#h17)">
<line x1="582.1" y1="475.0" x2="593.6" y2="463.5" stroke="#15161a" stroke-width="1.1"/>
<line x1="586.7" y1="475.0" x2="598.2" y2="463.5" stroke="#15161a" stroke-width="1.1"/>
<line x1="591.3" y1="475.0" x2="602.8" y2="463.5" stroke="#15161a" stroke-width="1.1"/>
<line x1="595.9" y1="475.0" x2="607.4" y2="463.5" stroke="#15161a" stroke-width="1.1"/>
<line x1="600.5" y1="475.0" x2="612.0" y2="463.5" stroke="#15161a" stroke-width="1.1"/>
<line x1="605.1" y1="475.0" x2="616.6" y2="463.5" stroke="#15161a" stroke-width="1.1"/>
</g>
<rect x="593.6" y="463.5" width="13.3" height="11.5" fill="none" stroke="#15161a" stroke-width="1.25"/>
<clipPath id="h18"><rect x="621.5" y="463.5" width="11.3" height="11.5"/></clipPath>
<g clip-path="url(#h18)">
<line x1="610.0" y1="475.0" x2="621.5" y2="463.5" stroke="#15161a" stroke-width="1.1"/>
<line x1="614.6" y1="475.0" x2="626.1" y2="463.5" stroke="#15161a" stroke-width="1.1"/>
<line x1="619.2" y1="475.0" x2="630.7" y2="463.5" stroke="#15161a" stroke-width="1.1"/>
<line x1="623.8" y1="475.0" x2="635.3" y2="463.5" stroke="#15161a" stroke-width="1.1"/>
<line x1="628.4" y1="475.0" x2="639.9" y2="463.5" stroke="#15161a" stroke-width="1.1"/>
<line x1="633.0" y1="475.0" x2="644.5" y2="463.5" stroke="#15161a" stroke-width="1.1"/>
</g>
<rect x="621.5" y="463.5" width="11.3" height="11.5" fill="none" stroke="#15161a" stroke-width="1.25"/>
<line x1="475.2" y1="464.5" x2="475.2" y2="474.0" stroke="#15161a" stroke-width="1.0" stroke-dasharray="3 2"/>
<line x1="489.7" y1="464.5" x2="489.7" y2="474.0" stroke="#15161a" stroke-width="1.0" stroke-dasharray="3 2"/>
<line x1="443.1" y1="448.8" x2="443.1" y2="497.7" stroke="#15161a" stroke-width="1.0"/>
<polygon points="443.1,463.5 441.9,455.5 444.3,455.5" fill="#15161a"/>
<polygon points="443.1,475.0 444.3,483.0 441.9,483.0" fill="#15161a"/>
<text transform="translate(440.0 473.0) rotate(-90) scale(0.88 1)" text-anchor="start" style="font-family:'Liberation Sans',sans-serif;font-size:7.5px;font-style:italic;" fill="#15161a">25*</text>
<path d="M498.2 483.9 L509.0 483.9 L509.0 495.2 L498.2 495.2 Z" fill="none" stroke="#15161a" stroke-width="1.4" stroke-linejoin="round"/>
<path d="M496.5 475.6 L503.6 483.9 L510.3 475.6" fill="none" stroke="#15161a" stroke-width="1.0" stroke-linejoin="round"/>
<path d="M502.0 493.0 L502.0 486.5 L505.5 486.5" fill="none" stroke="#15161a" stroke-width="1.0" stroke-linejoin="round"/>
<path d="M409.5 562.4 L436.3 562.4 L467.7 478.9 L472.7 468.9" fill="none" stroke="#15161a" stroke-width="1.0" stroke-linejoin="round"/>
<text transform="translate(415.5 560.6) scale(0.75 1)" text-anchor="start" style="font-family:'Liberation Sans',sans-serif;font-size:21px;font-style:italic;" fill="#15161a">4</text>
<line x1="465.7" y1="475.0" x2="465.7" y2="560.4" stroke="#15161a" stroke-width="1.0"/>
<line x1="484.0" y1="457.6" x2="484.0" y2="539.0" stroke="#15161a" stroke-width="1.0" stroke-dasharray="30 2 3 2"/>
<line x1="522.8" y1="475.0" x2="522.8" y2="512.2" stroke="#15161a" stroke-width="1.0"/>
<line x1="575.6" y1="475.0" x2="575.6" y2="512.2" stroke="#15161a" stroke-width="1.0"/>
<line x1="522.8" y1="507.7" x2="575.6" y2="507.7" stroke="#15161a" stroke-width="1.0"/>
<polygon points="522.8,507.7 533.8,506.3 533.8,509.1" fill="#15161a"/>
<polygon points="575.6,507.7 564.6,509.1 564.6,506.3" fill="#15161a"/>
<text transform="translate(550.5 506.6) scale(0.88 1)" text-anchor="middle" style="font-family:'Liberation Sans',sans-serif;font-size:12.5px;font-style:italic;" fill="#15161a">120</text>
<line x1="484.0" y1="529.5" x2="615.2" y2="529.5" stroke="#15161a" stroke-width="1.0"/>
<polygon points="484.0,529.5 495.0,528.1 495.0,530.9" fill="#15161a"/>
<polygon points="615.2,529.5 604.2,530.9 604.2,528.1" fill="#15161a"/>
<text transform="translate(553.5 528.6) scale(0.88 1)" text-anchor="middle" style="font-family:'Liberation Sans',sans-serif;font-size:12.5px;font-style:italic;" fill="#15161a">300*</text>
<line x1="465.7" y1="550.2" x2="634.0" y2="550.2" stroke="#15161a" stroke-width="1.0"/>
<polygon points="465.7,550.2 476.7,548.8 476.7,551.6" fill="#15161a"/>
<polygon points="634.0,550.2 623.0,551.6 623.0,548.8" fill="#15161a"/>
<text transform="translate(555.5 549.2) scale(0.88 1)" text-anchor="middle" style="font-family:'Liberation Sans',sans-serif;font-size:12.5px;font-style:italic;" fill="#15161a">380*</text>
<line x1="634.0" y1="475.0" x2="634.0" y2="557.8" stroke="#15161a" stroke-width="1.0"/>
<line x1="615.2" y1="456.3" x2="615.2" y2="532.8" stroke="#15161a" stroke-width="1.0" stroke-dasharray="16 2 3 2"/>
<line x1="607.7" y1="475.0" x2="607.7" y2="511.5" stroke="#15161a" stroke-width="1.0"/>
<line x1="622.0" y1="475.0" x2="622.0" y2="511.5" stroke="#15161a" stroke-width="1.0"/>
<line x1="595.6" y1="509.0" x2="693.4" y2="509.0" stroke="#15161a" stroke-width="1.0"/>
<polygon points="607.7,509.0 597.7,510.4 597.7,507.6" fill="#15161a"/>
<polygon points="622.0,509.0 632.0,507.6 632.0,510.4" fill="#15161a"/>
<text transform="translate(637.0 507.9) scale(1 1)" text-anchor="start" style="font-family:'Liberation Sans',sans-serif;font-size:11.5px;font-style:italic;" fill="#15161a" textLength="56.4" lengthAdjust="spacingAndGlyphs">4отв.ф33*</text>
</g>
</svg>
<div class="cap" id="c1" style="top:642.4px">Колено опорное Ду 150 Ру 4,0; 6,3 МПа</div>
<div class="cap" id="c2" style="top:668.6px">серия 7.401-2 выпуск 2</div>
</body></html>
